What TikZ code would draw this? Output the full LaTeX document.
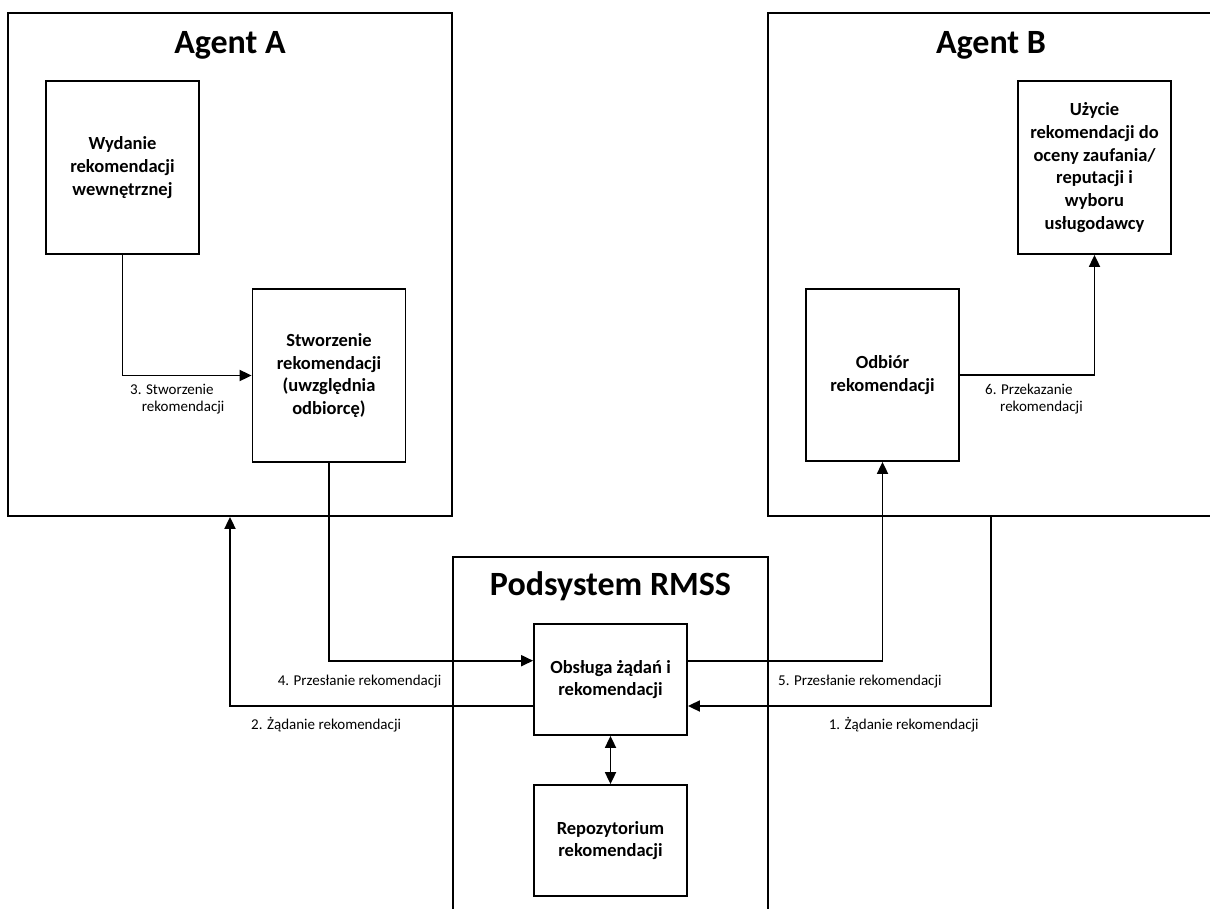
\documentclass[tikz,border=0pt]{standalone}
\usepackage{fontspec}
\setmainfont{Carlito}
\usetikzlibrary{arrows.meta,calc}

\begin{document}
\begin{tikzpicture}[x=1pt,y=-1pt,
  grp/.style={draw, line width=1.8pt, inner sep=0pt},
  blk/.style={draw, line width=1.8pt, inner sep=0pt, align=center,
              minimum width=153pt,
              font=\bfseries\fontsize{18.5}{22.7}\selectfont},
  ttl/.style={anchor=base, inner sep=0pt, font=\bfseries\fontsize{34}{40}\selectfont},
  lbl/.style={anchor=base west, inner sep=0pt, align=left,
              font=\fontsize{15}{17}\selectfont},
  arr/.style={line width=1.8pt, -{Triangle[length=12pt,width=11pt]}},
  arrboth/.style={line width=1.8pt,
                  {Triangle[length=12pt,width=11pt]}-{Triangle[length=12pt,width=11pt]}}]

\useasboundingbox (0,0) rectangle (1210,909);
\clip (0,0) rectangle (1210,909);
\fill[white] (0,0) rectangle (1210,909);

% outer frames
\node[grp, minimum width=444pt, minimum height=503pt] (AgA) at (230,264.5) {};
\node[grp, minimum width=446pt, minimum height=503pt] (AgB) at (991,264.5) {};
\node[grp, minimum width=315pt, minimum height=403pt] (Pod) at (610.5,758.5) {};

\node[ttl] (tA) at ($(AgA.north)+(0,41)$) {Agent A};
\node[ttl] (tB) at ($(AgB.north)+(0,41)$) {Agent B};
\node[ttl] (tP) at ($(Pod.north)+(0,39)$) {Podsystem RMSS};

% inner blocks
\node[blk, minimum height=173pt] (Wyd) at (122.5,167.5)
  {Wydanie\\rekomendacji\\wewnętrznej};
\node[blk, minimum height=173pt] (Stw) at (329,375.5)
  {Stworzenie\\rekomendacji\\(uwzględnia\\odbiorcę)};
\node[blk, minimum height=173pt] (Uzy) at (1094.5,167.5)
  {Użycie\\rekomendacji do\\oceny zaufania/\\reputacji i\\wyboru\\usługodawcy};
\node[blk, minimum height=172pt] (Odb) at (882.5,375)
  {Odbiór\\rekomendacji};
\node[blk, minimum height=111pt] (Obs) at (610.5,679.5)
  {Obsługa żądań i\\rekomendacji};
\node[blk, minimum height=111pt] (Rep) at (610.5,840.5)
  {Repozytorium\\rekomendacji};

% connectors
\draw[arr] (Wyd.south) |- (Stw.west);
\draw[arr] (Stw.south) |- ([yshift=18.8pt]Obs.west);
\draw[arr] ([yshift=-26.5pt]Obs.west) -| (AgA.south);
\draw[arr] ([yshift=18.8pt]Obs.east) -| (Odb.south);
\draw[arr] (AgB.south) |- ([yshift=-26.5pt]Obs.east);
\draw[arr] (Odb.east) -| (Uzy.south);
\draw[arrboth] (Obs.south) -- (Rep.north);

% connector labels (base = baseline of the last line)
\node[lbl] (l3) at (130,411) {3. Stworzenie\\\hspace*{11.7pt}rekomendacji};
\node[lbl] (l6) at (985,411) {6. Przekazanie\\\hspace*{15pt}rekomendacji};
\node[lbl] (l4) at (277.6,685) {4. Przesłanie rekomendacji};
\node[lbl] (l2) at (251,729) {2. Żądanie rekomendacji};
\node[lbl] (l5) at (778,685) {5. Przesłanie rekomendacji};
\node[lbl] (l1) at (828.6,729) {1. Żądanie rekomendacji};
\end{tikzpicture}
\end{document}
